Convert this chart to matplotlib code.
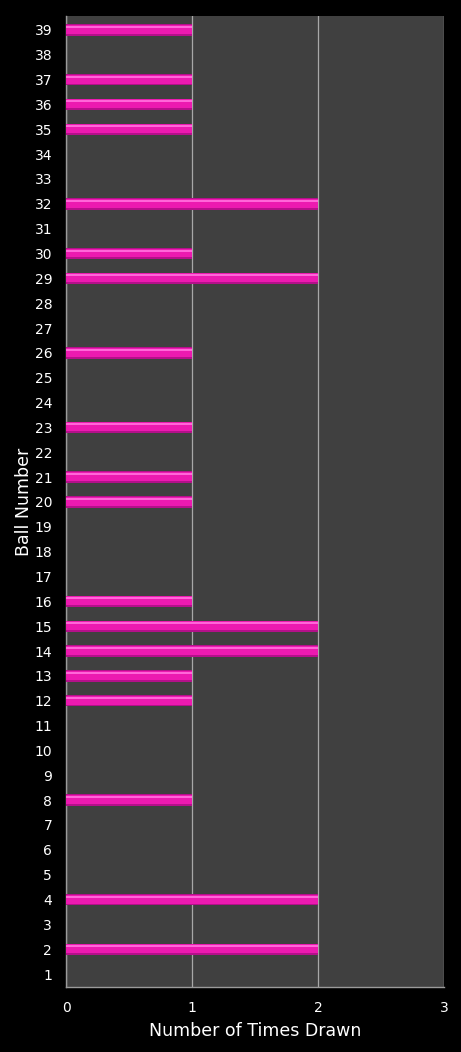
import matplotlib.pyplot as plt

balls = list(range(1, 40))
drawn = {2: 2, 4: 2, 8: 1, 12: 1, 13: 1, 14: 2, 15: 2, 16: 1, 20: 1, 21: 1,
         23: 1, 26: 1, 29: 2, 30: 1, 32: 2, 35: 1, 36: 1, 37: 1, 39: 1}
counts = [drawn.get(b, 0) for b in balls]
x_ticks = [0, 1, 2, 3]

fig = plt.figure(figsize=(4.61, 10.52), dpi=100, facecolor="black")
ax = fig.add_axes([0.1432, 0.0618, 0.8199, 0.923])
ax.set_facecolor("#404040")

# bar body, darker rim and a light stripe near the top to fake the bevel
ax.barh(balls, counts, height=0.46, color="#b4108a", zorder=3)
ax.barh([b + 0.02 for b in balls], counts, height=0.36, color="#ec1ab0", zorder=4)
ax.barh([b + 0.12 for b in balls], counts, height=0.08, color="#ff66d8", zorder=5)

ax.set_xlim(0, 3)
ax.set_ylim(0.48, 39.56)
ax.set_xticks(x_ticks)
ax.set_yticks(balls)
ax.tick_params(colors="white", labelsize=10, length=0)
ax.tick_params(axis="x", pad=10)
ax.tick_params(axis="y", pad=10)
ax.grid(axis="x", color="#a8a8a8", linewidth=0.9, zorder=1)
ax.set_axisbelow(True)

for side in ("top", "right"):
    ax.spines[side].set_visible(False)
for side in ("left", "bottom"):
    ax.spines[side].set_color("#9a9a9a")
    ax.spines[side].set_linewidth(1)

ax.set_xlabel("Number of Times Drawn", color="white", fontsize=12.5, labelpad=5)
ax.set_ylabel("Ball Number", color="white", fontsize=12.5, labelpad=1)

fig.savefig("out.png", dpi=100, facecolor="black")
